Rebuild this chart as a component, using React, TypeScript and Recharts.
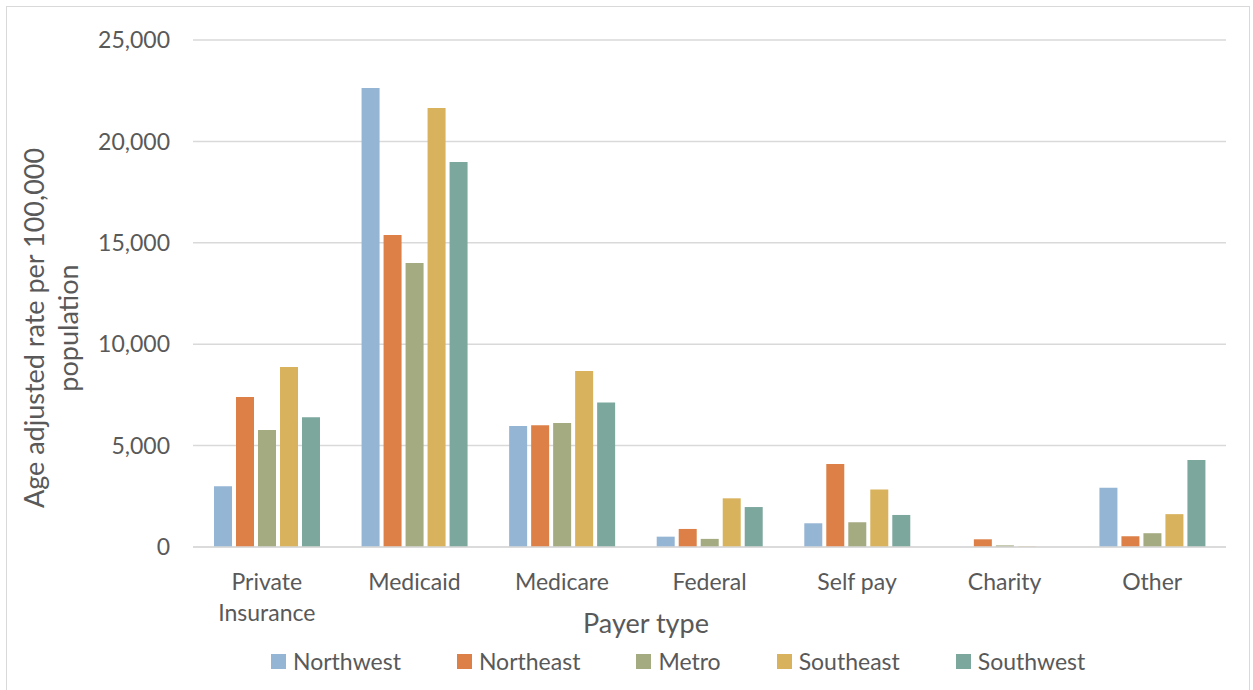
import { BarChart, Bar, XAxis, YAxis, CartesianGrid, Legend } from "recharts";

const categories = ["Private Insurance", "Medicaid", "Medicare", "Federal", "Self pay", "Charity", "Other"];

const northwest = [3000, 22630, 5970, 510, 1170, 0, 2920];
const northeast = [7400, 15380, 6000, 890, 4090, 380, 530];
const metro = [5770, 14010, 6120, 400, 1220, 80, 680];
const southeast = [8870, 21650, 8680, 2400, 2830, 30, 1620];
const southwest = [6400, 18990, 7120, 1970, 1580, 0, 4290];

const yTicks = [0, 5000, 10000, 15000, 20000, 25000];

const SERIES = [
  { key: "Northwest", values: northwest, color: "#95B5D4" },
  { key: "Northeast", values: northeast, color: "#DD8047" },
  { key: "Metro", values: metro, color: "#A5AB81" },
  { key: "Southeast", values: southeast, color: "#D8B25C" },
  { key: "Southwest", values: southwest, color: "#7BA79D" },
];

const FONT = "Lato, 'Open Sans', sans-serif";
const TEXT = "#595959";
const GRID = "#D9D9D9";

const data = categories.map((name, i) => {
  const row: Record<string, string | number> = { name };
  SERIES.forEach((s) => (row[s.key] = s.values[i]));
  return row;
});

const CategoryTick = ({ x, y, payload }: any) => {
  const lines = payload.value === "Private Insurance" ? ["Private", "Insurance"] : [payload.value];
  return (
    <text x={x} y={y + 43} textAnchor="middle" fill={TEXT} fontSize={23} fontFamily={FONT}>
      {lines.map((l, i) => (
        <tspan key={l} x={x} dy={i === 0 ? 0 : 31}>
          {l}
        </tspan>
      ))}
    </text>
  );
};

const LegendContent = () => (
  <div style={{ display: "flex", alignItems: "center", marginLeft: 271, fontFamily: FONT, fontSize: 23, color: TEXT }}>
    {SERIES.map((s) => (
      <div key={s.key} style={{ display: "flex", alignItems: "center", marginRight: 56 }}>
        <span style={{ width: 15, height: 15, background: s.color, marginRight: 7, display: "inline-block" }} />
        <span>{s.key}</span>
      </div>
    ))}
  </div>
);

export default function App() {
  return (
    <div style={{ position: "absolute", left: 0, top: 0, width: 1253, height: 690, background: "#fff", overflow: "hidden" }}>
      <div style={{ position: "absolute", left: 6, top: 6, width: 1244, height: 700, border: `1px solid ${GRID}`, boxSizing: "border-box" }} />
      <div style={{ position: "absolute", left: 0, top: 0 }}>
        <BarChart
          width={1253}
          height={690}
          data={data}
          margin={{ top: 40, right: 27, bottom: 0, left: 0 }}
          barCategoryGap={21}
          barGap={4}
        >
          <CartesianGrid vertical={false} stroke={GRID} strokeWidth={1.5} />
          <XAxis
            dataKey="name"
            height={143}
            tickLine={false}
            tickSize={0}
            tickMargin={0}
            axisLine={{ stroke: GRID, strokeWidth: 1.5 }}
            tick={<CategoryTick />}
            interval={0}
            label={{
              content: () => (
                <text x={646} y={633} textAnchor="middle" fill={TEXT} fontSize={27} fontFamily={FONT}>
                  Payer type
                </text>
              ),
            }}
          />
          <YAxis
            width={193}
            domain={[0, 25000]}
            ticks={yTicks}
            axisLine={false}
            tickLine={false}
            tickSize={0}
            tickMargin={23}
            tick={{ fill: TEXT, fontSize: 23, fontFamily: FONT }}
            tickFormatter={(v: number) => v.toLocaleString("en-US")}
            label={{
              content: () => (
                <g fill={TEXT} fontSize={27} fontFamily={FONT}>
                  <text transform="translate(44,328) rotate(-90)" textAnchor="middle">
                    Age adjusted rate per 100,000
                  </text>
                  <text transform="translate(78,328) rotate(-90)" textAnchor="middle">
                    population
                  </text>
                </g>
              ),
            }}
          />
          <Legend
            layout="horizontal"
            verticalAlign="middle"
            align="center"
            wrapperStyle={{ top: 647, left: 0, width: 1253 }}
            content={<LegendContent />}
          />
          {SERIES.map((s) => (
            <Bar key={s.key} dataKey={s.key} fill={s.color} isAnimationActive={false} />
          ))}
        </BarChart>
      </div>
    </div>
  );
}
